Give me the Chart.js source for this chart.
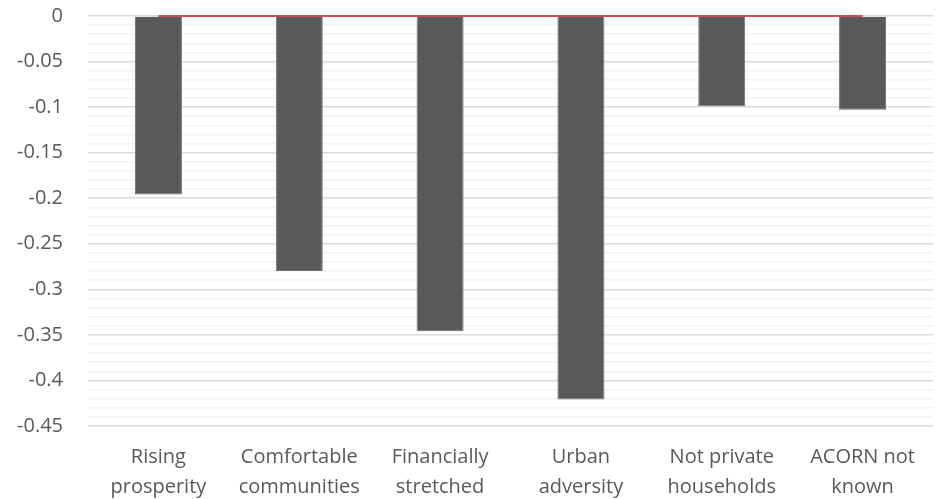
<!DOCTYPE html>
<html>
<head>
<meta charset="utf-8">
<script src="https://cdn.jsdelivr.net/npm/chart.js@4/dist/chart.umd.min.js"></script>
<style>
  body { margin: 0; background: #fff; }
  #wrap { width: 937px; height: 499px; }
</style>
</head>
<body>
<div id="wrap"><canvas id="chart"></canvas></div>
<script>
const categories = [
  ['Rising', 'prosperity'],
  ['Comfortable', 'communities'],
  ['Financially', 'stretched'],
  ['Urban', 'adversity'],
  ['Not private', 'households'],
  ['ACORN not', 'known']
];
const effects = [-0.196, -0.280, -0.346, -0.421, -0.099, -0.103];
const baseline = [0, 0, 0, 0, 0, 0];

const textColor = '#595959';
const font = { family: "'Open Sans', sans-serif", size: 20 };

// every hundredth gets a faint line, every 0.05 a labelled one
const isMajor = v => Math.abs(Math.round(v * 100)) % 5 === 0;

new Chart(document.getElementById('chart'), {
  data: {
    labels: categories,
    datasets: [
      {
        type: 'line',
        data: baseline,
        borderColor: '#c9504c',
        borderWidth: 2,
        pointRadius: 0,
        clip: false
      },
      {
        type: 'bar',
        data: effects,
        backgroundColor: '#595959',
        borderColor: '#6e6e6e',
        borderWidth: 1,
        barPercentage: 0.334,
        categoryPercentage: 1,
        clip: false
      }
    ]
  },
  options: {
    responsive: true,
    maintainAspectRatio: false,
    animation: false,
    layout: { padding: { left: 14, right: 4, top: 0, bottom: 0 } },
    plugins: { legend: { display: false }, tooltip: { enabled: false } },
    scales: {
      x: {
        grid: { display: false },
        border: { display: false },
        ticks: { color: textColor, font: { ...font, lineHeight: 1.5 }, padding: 8, maxRotation: 0 },
        afterFit: s => { s.height = 73; }
      },
      y: {
        min: -0.45,
        max: 0,
        border: { display: false },
        grid: {
          drawTicks: false,
          lineWidth: 1.5,
          color: ctx => isMajor(ctx.tick.value) ? '#d9d9d9' : '#f2f2f2'
        },
        ticks: {
          stepSize: 0.01,
          autoSkip: false,
          padding: 25,
          color: textColor,
          font: font,
          callback: v => isMajor(v) ? String(parseFloat(v.toFixed(2))) : ''
        },
        // tick padding would otherwise push the plot down from the top edge
        afterFit: s => { s.width = 74; s.paddingTop = 16; s.paddingBottom = 0; }
      }
    }
  }
});
</script>
</body>
</html>
